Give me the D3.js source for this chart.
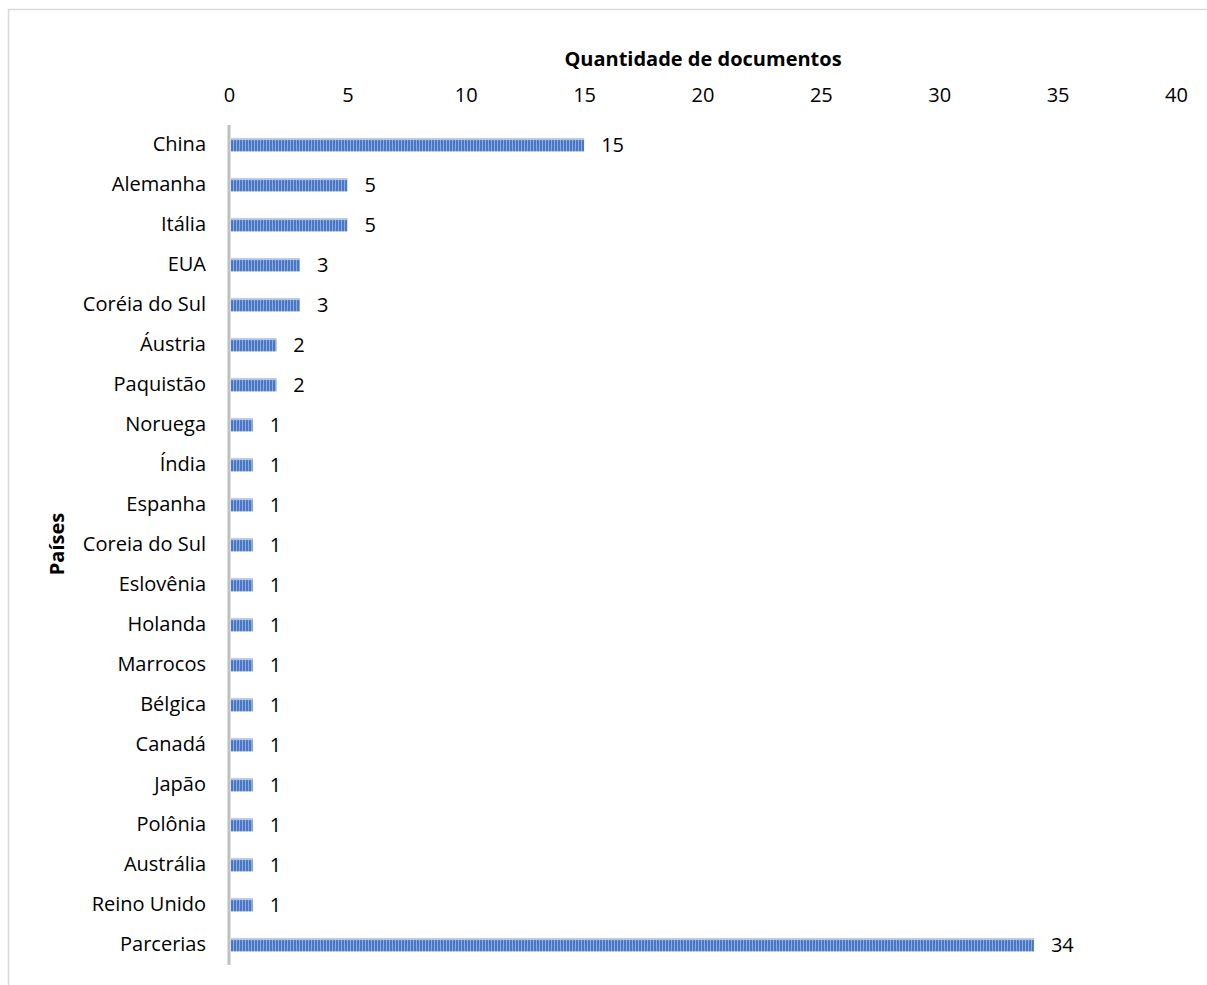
<!DOCTYPE html>
<html><head><meta charset="utf-8">
<script src="https://cdn.jsdelivr.net/npm/d3@7"></script>
<style>body{margin:0;background:#fff;}svg{display:block;font-family:"Open Sans",sans-serif;}</style>
</head><body><svg id="c" width="1207" height="985"></svg>
<script>
const categories=["China","Alemanha","Itália","EUA","Coréia do Sul","Áustria","Paquistão","Noruega","Índia","Espanha","Coreia do Sul","Eslovênia","Holanda","Marrocos","Bélgica","Canadá","Japão","Polônia","Austrália","Reino Unido","Parcerias"];
const values=[15,5,5,3,3,2,2,1,1,1,1,1,1,1,1,1,1,1,1,1,34];
const xTicks=[0,5,10,15,20,25,30,35,40];
const xTitle="Quantidade de documentos";
const yTitle="Países";
const FF="'Open Sans',sans-serif";
const FS=20;

const svg=d3.select("#c");
svg.append("rect").attr("x",8.5).attr("y",9.5).attr("width",1210).attr("height",990).attr("fill","none").attr("stroke","#d9d9d9").attr("stroke-width",1.5);
const defs=svg.append("defs");
const pat=defs.append("pattern").attr("id","stripes").attr("patternUnits","userSpaceOnUse").attr("width",3).attr("height",20);
pat.append("rect").attr("width",3).attr("height",20).attr("fill","#8eaadb");
pat.append("rect").attr("width",2).attr("height",20).attr("fill","#4a78c6");

const x=d3.scaleLinear().domain([0,40]).range([229,1176]);
const y=d3.scaleBand().domain(categories).range([125,965]).paddingInner(0.68).paddingOuter(0.34);

const xa=svg.append("g").attr("transform","translate(0,102)").call(d3.axisTop(x).tickValues(xTicks).tickSize(0).tickPadding(0));
xa.select(".domain").remove();
xa.selectAll("text").attr("font-size",FS).attr("fill","#000").attr("font-family",FF);

const ya=svg.append("g").attr("transform","translate(229,0)").call(d3.axisLeft(y).tickSize(0).tickPadding(23));
ya.select(".domain").attr("stroke","#bfbfbf").attr("stroke-width",3).attr("d","M0,125V965");
ya.selectAll("text").attr("font-size",FS).attr("fill","#000").attr("font-family",FF);

svg.append("g").selectAll("rect").data(values).join("rect")
 .attr("x",x(0)+2).attr("y",(d,i)=>y(categories[i])).attr("width",d=>x(d)-x(0)-2).attr("height",y.bandwidth())
 .attr("fill","url(#stripes)");
svg.append("g").selectAll("rect").data(values).join("rect")
 .attr("x",x(0)+2).attr("y",(d,i)=>y(categories[i])).attr("width",d=>x(d)-x(0)-2).attr("height",1.5)
 .attr("fill","#b4c7e7");

svg.append("g").selectAll("text").data(values).join("text")
 .attr("x",d=>x(d)+17).attr("y",(d,i)=>y(categories[i])+y.bandwidth()/2+2)
 .attr("dominant-baseline","middle").attr("font-size",FS).attr("fill","#000").text(d=>d);

svg.append("text").attr("x",703).attr("y",66).attr("text-anchor","middle").attr("font-size",FS).attr("font-weight","bold").text(xTitle);
svg.append("text").attr("transform","translate(64,544) rotate(-90)").attr("text-anchor","middle").attr("font-size",FS).attr("font-weight","bold").text(yTitle);
</script></body></html>
